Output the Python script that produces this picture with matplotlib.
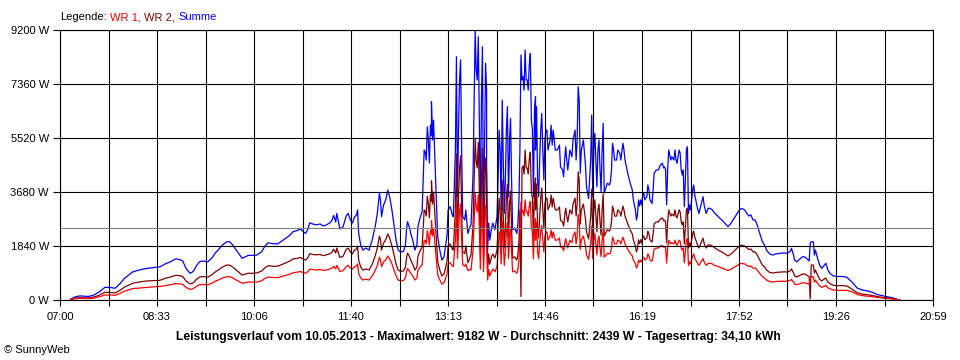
import matplotlib
matplotlib.use("Agg")
import matplotlib.pyplot as plt

plt.rcParams['font.family'] = ['Liberation Sans', 'DejaVu Sans']

# time of each sample in minutes after 07:00
minutes = [
    10, 14, 19, 27, 32, 36, 38, 43, 48, 53, 58, 62, 70, 77, 84, 91, 96, 101, 106, 111,
    115, 118, 121, 125, 128, 131, 134, 137, 142, 146, 149, 152, 156, 160, 163, 166, 170, 175, 178, 181,
    185, 189, 194, 197, 200, 204, 209, 212, 216, 221, 224, 228, 231, 234, 236, 238, 240, 243, 246, 250,
    253, 256, 259, 261, 263, 265, 266, 269, 272, 275, 277, 279, 281, 283, 285, 286, 287, 289, 291, 294,
    297, 300, 303, 305, 307, 308, 309, 311, 313, 315, 317, 319, 321, 323, 325, 327, 330, 332, 333, 334,
    336, 337, 339, 341, 343, 344, 346, 348, 349, 350, 351, 352, 353, 354, 355, 356, 357, 357, 358, 359,
    360, 361, 363, 365, 367, 369, 370, 372, 373, 375, 377, 378, 380, 381, 382, 383, 384, 385, 386, 387,
    389, 390, 392, 394, 395, 397, 398, 399, 400, 401, 402, 403, 404, 405, 406, 407, 408, 409, 410, 410,
    411, 412, 413, 415, 416, 418, 420, 421, 422, 423, 424, 425, 426, 427, 428, 429, 430, 431, 432, 432,
    433, 434, 435, 437, 439, 440, 441, 442, 443, 444, 445, 446, 447, 448, 449, 450, 451, 452, 453, 454,
    455, 456, 457, 457, 458, 459, 460, 461, 462, 463, 464, 465, 466, 467, 468, 469, 471, 472, 473, 474,
    476, 478, 480, 481, 483, 484, 485, 486, 487, 488, 490, 492, 493, 495, 496, 497, 498, 499, 500, 501,
    503, 505, 506, 508, 509, 510, 511, 512, 513, 514, 515, 516, 517, 518, 519, 520, 521, 522, 523, 524,
    526, 528, 529, 530, 531, 532, 533, 535, 536, 538, 539, 541, 542, 543, 545, 546, 548, 550, 551, 553,
    554, 555, 556, 557, 558, 559, 560, 561, 562, 563, 564, 565, 566, 567, 569, 570, 571, 573, 575, 577,
    579, 580, 581, 582, 583, 584, 585, 587, 588, 590, 591, 592, 593, 595, 596, 597, 598, 599, 600, 601,
    602, 603, 604, 605, 606, 607, 608, 609, 610, 611, 613, 614, 616, 618, 619, 621, 623, 625, 627, 628,
    629, 631, 634, 636, 639, 642, 645, 648, 651, 653, 655, 658, 660, 662, 664, 666, 668, 670, 673, 675,
    678, 679, 682, 685, 688, 692, 696, 699, 702, 703, 705, 706, 708, 710, 712, 714, 716, 718, 720, 721,
    722, 724, 725, 726, 728, 730, 732, 734, 736, 738, 740, 743, 747, 752, 756, 759, 762, 766, 771, 776,
    781, 785, 790, 795, 801, 804, 807,
]

summe = [
    20, 100, 140, 120, 160, 240, 280, 430, 430, 400, 570, 740, 960, 1030, 1080, 1110, 1130, 1230, 1300, 1400,
    1380, 1330, 1080, 910, 970, 1160, 1300, 1330, 1300, 1430, 1590, 1700, 1870, 1980, 1990, 1870, 1670, 1420, 1470, 1520,
    1520, 1530, 1650, 1840, 1950, 1920, 1910, 1980, 2080, 2210, 2330, 2370, 2420, 2320, 2270, 2390, 2630, 2590, 2560, 2590,
    2520, 2560, 2620, 2690, 2880, 2660, 2950, 2420, 2490, 2860, 2950, 2730, 2620, 2830, 2900, 3070, 2280, 1870, 1700, 1770,
    1700, 2040, 2520, 2960, 3640, 3410, 2840, 3240, 3410, 3750, 3480, 3070, 2560, 2040, 1700, 1640, 1650, 1870, 2390, 2670,
    2450, 2270, 2040, 1700, 1870, 2500, 2790, 3010, 4090, 5110, 5050, 4770, 5900, 5450, 4670, 5960, 5620, 6760, 5450, 6130,
    5110, 4090, 2160, 1700, 1360, 1470, 1700, 2210, 3070, 3180, 2900, 2840, 5110, 8290, 3520, 5790, 7500, 8180, 5110, 2840,
    2730, 3070, 2270, 2500, 2560, 4320, 6810, 9180, 7840, 7500, 8970, 6130, 2620, 6810, 8630, 2390, 5110, 8060, 7150, 4660,
    1700, 2620, 2040, 2500, 2620, 2390, 2840, 4090, 5790, 5110, 3070, 6810, 4770, 2950, 4090, 5790, 6590, 3520, 5110, 5450,
    6190, 4090, 2390, 2450, 2270, 2560, 3290, 5110, 8350, 7500, 7610, 7150, 8520, 7500, 7500, 7150, 8010, 8400, 6130, 5790,
    3520, 6470, 6930, 5110, 6590, 4090, 3520, 4770, 5790, 6360, 5110, 4090, 5450, 5790, 5790, 5110, 5450, 5960, 5280, 5790,
    5110, 5110, 5280, 4540, 4430, 4200, 4770, 5220, 4770, 4430, 5110, 4880, 5450, 5790, 4770, 5450, 7270, 6810, 4320, 5110,
    5450, 4600, 3860, 3460, 4090, 4770, 6300, 3520, 5110, 5680, 4770, 3860, 5110, 5450, 4430, 3690, 5110, 6020, 3640, 3750,
    3980, 3920, 4030, 4430, 5340, 5110, 4770, 4770, 5110, 5000, 4770, 5340, 5110, 4770, 4430, 4260, 3980, 3750, 3410, 3070,
    2730, 2900, 3410, 3200, 3410, 3240, 3580, 3640, 3410, 3480, 3520, 3920, 3750, 3410, 3290, 3750, 4320, 4430, 4430, 4600,
    4660, 4500, 4540, 4430, 3240, 4430, 5110, 4770, 4880, 4770, 5110, 4770, 4660, 5110, 5000, 4430, 4260, 4430, 3180, 4090,
    5110, 5220, 2950, 3240, 3070, 3410, 3750, 3920, 3580, 3410, 3070, 2950, 3240, 3520, 3240, 2950, 3130, 3120, 3070, 3010,
    2960, 2900, 2790, 2730, 2620, 2500, 2620, 2790, 2960, 3070, 3120, 3070, 2960, 2860, 2900, 2730, 2730, 2560, 2210, 1990,
    1810, 1700, 1570, 1530, 1570, 1590, 1600, 1590, 1670, 1760, 1530, 1360, 1300, 1360, 1430, 1480, 1460, 1400, 1330, 1930,
    1990, 1980, 1530, 1700, 1430, 1190, 1080, 1160, 1250, 1020, 910, 820, 800, 800, 780, 680, 580, 410, 340, 310,
    260, 190, 150, 110, 70, 30, 0,
]

wr1 = [
    10, 40, 60, 50, 60, 100, 110, 170, 170, 160, 230, 300, 390, 410, 430, 450, 460, 490, 520, 560,
    550, 530, 430, 360, 390, 460, 520, 530, 520, 570, 640, 680, 750, 790, 800, 750, 670, 570, 590, 610,
    610, 610, 660, 740, 780, 770, 760, 790, 830, 880, 930, 950, 970, 930, 910, 960, 1050, 1040, 1020, 1040,
    1010, 1020, 1050, 1080, 1150, 1060, 1180, 970, 1000, 1140, 1180, 1090, 1050, 1130, 1160, 1230, 910, 750, 680, 710,
    680, 820, 1010, 1180, 1460, 1360, 1140, 1300, 1360, 1500, 1390, 1230, 1020, 820, 680, 660, 660, 750, 960, 1070,
    980, 910, 820, 680, 750, 1000, 1120, 1200, 1640, 2040, 2020, 1910, 2360, 2180, 1870, 2380, 2250, 2700, 2180, 2450,
    2040, 1640, 860, 680, 540, 590, 680, 880, 1230, 1270, 1160, 1140, 2040, 3320, 1410, 2320, 3000, 3270, 2040, 1200,
    1150, 1230, 1000, 1050, 1020, 1730, 2720, 3670, 3140, 3000, 3590, 2450, 1050, 2720, 3450, 960, 2040, 3220, 2860, 1860,
    680, 1050, 820, 1000, 1050, 960, 1140, 1640, 2320, 2040, 1230, 2720, 1910, 1180, 1640, 2320, 2640, 1410, 2040, 2180,
    2480, 1640, 960, 980, 910, 1020, 1320, 2040, 3340, 3000, 3040, 2860, 3410, 3000, 3000, 2860, 3200, 3360, 2450, 2320,
    1410, 2590, 2770, 2040, 2640, 1640, 1410, 1910, 2320, 2540, 2040, 1640, 2180, 2320, 2320, 2040, 2180, 2380, 2110, 2320,
    2040, 2040, 2110, 1820, 1770, 1680, 1910, 2090, 1910, 1770, 2040, 1950, 2180, 2320, 1910, 2180, 2910, 2720, 1730, 2040,
    2180, 1840, 1540, 1380, 1640, 1910, 2520, 1410, 2040, 2270, 1910, 1540, 2040, 2180, 1770, 1480, 2040, 2410, 1460, 1500,
    1590, 1570, 1610, 1770, 2140, 2040, 1910, 1910, 2040, 2000, 1910, 2140, 2040, 1910, 1770, 1700, 1590, 1500, 1360, 1230,
    1090, 1160, 1360, 1280, 1360, 1300, 1430, 1460, 1360, 1390, 1410, 1570, 1500, 1360, 1320, 1500, 1730, 1770, 1770, 1840,
    1860, 1800, 1820, 1770, 1260, 1770, 2040, 1910, 1950, 1910, 2040, 1910, 1860, 2040, 2000, 1770, 1700, 1770, 1270, 1640,
    2040, 2090, 1180, 1300, 1230, 1360, 1500, 1570, 1430, 1360, 1230, 1180, 1300, 1410, 1300, 1180, 1250, 1250, 1230, 1200,
    1180, 1160, 1120, 1090, 1050, 1000, 1050, 1120, 1180, 1230, 1250, 1230, 1180, 1140, 1160, 1090, 1090, 1020, 880, 800,
    720, 680, 630, 610, 630, 640, 640, 640, 670, 700, 610, 540, 520, 540, 570, 590, 580, 560, 530, 770,
    800, 790, 610, 680, 570, 480, 430, 460, 500, 410, 380, 340, 330, 330, 330, 300, 270, 190, 150, 130,
    110, 90, 70, 50, 30, 20, 0,
]

wr2 = [
    10, 60, 80, 70, 100, 140, 170, 260, 260, 240, 340, 440, 570, 620, 650, 660, 670, 740, 780, 840,
    830, 800, 650, 550, 580, 700, 780, 800, 780, 860, 950, 1020, 1120, 1190, 1190, 1120, 1000, 850, 880, 910,
    910, 920, 990, 1100, 1170, 1150, 1150, 1190, 1250, 1330, 1400, 1420, 1450, 1390, 1360, 1430, 1580, 1550, 1540, 1550,
    1510, 1540, 1570, 1610, 1730, 1600, 1770, 1450, 1490, 1720, 1770, 1640, 1570, 1700, 1740, 1840, 1370, 1120, 1020, 1060,
    1020, 1220, 1510, 1780, 2180, 2050, 1700, 1940, 2050, 2250, 2090, 1840, 1540, 1220, 1020, 980, 990, 1120, 1430, 1600,
    1470, 1360, 1220, 1020, 1120, 1500, 1670, 1810, 2450, 3070, 3030, 2860, 3540, 3270, 2800, 3580, 3370, 4060, 3270, 3680,
    3070, 2450, 1300, 1020, 820, 880, 1020, 1330, 1840, 1910, 1740, 1700, 3070, 4970, 2110, 3470, 4500, 4910, 3070, 1640,
    1580, 1840, 1270, 1450, 1540, 2590, 4090, 5510, 4700, 4500, 5380, 3680, 1570, 4090, 5180, 1430, 3070, 4840, 4290, 2800,
    1020, 1570, 1220, 1500, 1570, 1430, 1700, 2450, 3470, 3070, 1840, 4090, 2860, 1770, 2450, 3470, 3950, 2110, 3070, 3270,
    3710, 2450, 1430, 1470, 1360, 1540, 1970, 3070, 120, 4500, 4570, 4290, 5110, 4500, 4500, 4290, 4810, 5040, 3680, 3470,
    2110, 3880, 4160, 3070, 3950, 2450, 2110, 2860, 3470, 3820, 3070, 2450, 3270, 3470, 3470, 3070, 3270, 3580, 3170, 3470,
    3070, 3070, 3170, 2720, 2660, 2520, 2860, 3130, 2860, 2660, 3070, 2930, 3270, 3470, 2860, 3270, 4360, 4090, 2590, 3070,
    3270, 2760, 2320, 2080, 2450, 2860, 3780, 2110, 3070, 3410, 2860, 2320, 3070, 3270, 2660, 2210, 3070, 3610, 2180, 2250,
    2390, 2350, 2420, 2660, 3200, 3070, 2860, 2860, 3070, 3000, 2860, 3200, 3070, 2860, 2660, 2560, 2390, 2250, 2050, 1840,
    1640, 1740, 2050, 1920, 2050, 1940, 2150, 2180, 2050, 2090, 2110, 2350, 2250, 2050, 1970, 2250, 2590, 2660, 2660, 2760,
    2800, 2700, 2720, 2660, 1940, 2660, 3070, 2860, 2930, 2860, 3070, 2860, 2800, 3070, 3000, 2660, 2560, 2660, 1910, 2450,
    3070, 3130, 1770, 1940, 1840, 2050, 2250, 2350, 2150, 2050, 1840, 1770, 1940, 2110, 1940, 1770, 1880, 1870, 1840, 1810,
    1780, 1740, 1670, 1640, 1570, 1500, 1570, 1670, 1780, 1840, 1870, 1840, 1780, 1720, 1740, 1640, 1640, 1540, 1330, 1190,
    1090, 1020, 940, 920, 940, 950, 960, 950, 1000, 1060, 920, 820, 780, 820, 860, 890, 880, 840, 800, 40,
    1190, 1190, 920, 1020, 860, 710, 650, 700, 750, 610, 560, 500, 490, 490, 480, 420, 350, 250, 200, 180,
    150, 120, 90, 70, 40, 20, 0,
]

y_ticks = [0, 1840, 3680, 5520, 7360, 9200]
x_tick_labels = ["07:00", "08:33", "10:06", "11:40", "13:13",
                 "14:46", "16:19", "17:52", "19:26", "20:59"]
day_span = 839          # minutes from 07:00 to 20:59
average = 2439
title = ("Leistungsverlauf vom 10.05.2013 - Maximalwert: 9182 W - "
         "Durchschnitt: 2439 W - Tagesertrag: 34,10 kWh")
legend_items = [("Legende:", "black"), ("WR 1,", "#ff0000"),
                ("WR 2,", "#800000"), ("Summe", "#0000ff")]

W, H = 960, 360
fig = plt.figure(figsize=(W / 100, H / 100), dpi=100)
ax = fig.add_axes([60 / W, 60 / H, 873 / W, 270 / H])
ax.set_xlim(0, day_span)
ax.set_ylim(0, 9200)

LW = 0.8
for series, col in ((summe, "#0000ff"), (wr2, "#800000"), (wr1, "#ff0000")):
    ax.plot(minutes, series, color=col, lw=0.9, zorder=2)

for k in range(19):
    ax.axvline(k * day_span / 18, color="black", lw=LW, zorder=3)
for v in y_ticks:
    ax.axhline(v, color="black", lw=LW, zorder=3)
ax.axhline(average, color="#808080", lw=LW, zorder=4)

ax.set_xticks([k * day_span / 9 for k in range(10)])
ax.set_xticklabels(x_tick_labels)
ax.set_xticks([k * day_span / 18 for k in range(1, 18, 2)], minor=True)
ax.tick_params(axis="x", which="both", length=4, width=LW, pad=5, labelsize=8)
ax.set_yticks(y_ticks)
ax.set_yticklabels([f"{v} W" for v in y_ticks])
ax.tick_params(axis="y", length=5, width=LW, pad=3, labelsize=8)
for s in ax.spines.values():
    s.set_linewidth(LW)
    s.set_zorder(5)

fig.text(478 / W, 1 - 337 / H, title, ha="center", va="center",
         fontsize=8.7, fontweight="bold")
fig.text(4 / W, 1 - 350 / H, "\u00a9 SunnyWeb", ha="left", va="center", fontsize=8)

renderer = fig.canvas.get_renderer()
x0 = 60.0
for txt, col in legend_items:
    t = fig.text(x0 / W, 1 - 17 / H, txt, color=col, ha="left", va="center", fontsize=8)
    x0 += t.get_window_extent(renderer=renderer).width + 3.5

fig.savefig("out.png", dpi=100)
